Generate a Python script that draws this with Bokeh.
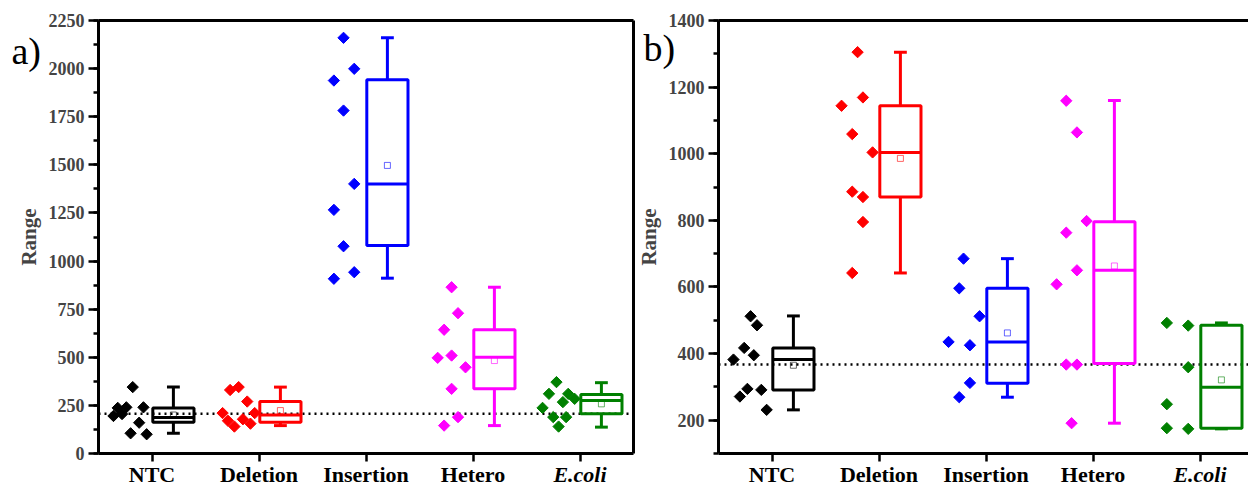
import numpy as np
from bokeh.plotting import figure
from bokeh.models import Range1d, SingleIntervalTicker, FixedTicker, Label, LinearAxis
from bokeh.layouts import row
from bokeh.embed import file_html
from bokeh.resources import INLINE

categories = ["NTC", "Deletion", "Insertion", "Hetero", "E.coli"]
colors = ["#000000", "#FF0000", "#0000FF", "#FF00FF", "#008000"]

# ---------- panel a data ----------
a_ntc = [345, 237, 240, 195, 205, 240, 160, 105, 100]
a_ntc_dx = [-0.18, -0.32, -0.24, -0.36, -0.28, -0.08, -0.12, -0.20, -0.05]
a_del = [330, 345, 270, 210, 170, 140, 178, 155, 210]
a_del_dx = [-0.27, -0.19, -0.11, -0.34, -0.29, -0.23, -0.15, -0.08, -0.04]
a_ins = [2160, 1999, 1938, 1782, 1401, 1266, 1077, 942, 908]
a_ins_dx = [-0.21, -0.11, -0.30, -0.21, -0.11, -0.30, -0.21, -0.11, -0.30]
a_het = [864, 729, 643, 497, 509, 448, 336, 189, 145]
a_het_dx = [-0.20, -0.14, -0.27, -0.33, -0.20, -0.07, -0.20, -0.14, -0.27]
a_eco = [371, 310, 310, 284, 267, 237, 189, 189, 140]
a_eco_dx = [-0.22, -0.29, -0.11, -0.05, -0.16, -0.35, -0.25, -0.13, -0.20]

# box stats: whisker low, q1, median, q3, whisker high, mean
a_low = [105, 145, 911, 145, 137]
a_q1 = [163, 163, 1081, 336, 206]
a_med = [187, 200, 1401, 500, 275]
a_q3 = [237, 270, 1942, 643, 307]
a_high = [345, 345, 2160, 864, 368]
a_mean = [200, 223, 1497, 483, 258]
a_ref = 206
a_yticks = (0, 2250, 250)

# ---------- panel b data ----------
b_ntc = [512, 485, 417, 395, 382, 294, 291, 271, 231]
b_ntc_dx = [-0.20, -0.14, -0.26, -0.17, -0.36, -0.23, -0.10, -0.30, -0.05]
b_del = [1305, 1169, 1144, 1059, 1004, 886, 870, 795, 642]
b_del_dx = [-0.20, -0.15, -0.35, -0.25, -0.06, -0.25, -0.15, -0.15, -0.25]
b_ins = [685, 596, 512, 435, 425, 312, 269]
b_ins_dx = [-0.21, -0.25, -0.06, -0.35, -0.15, -0.15, -0.25]
b_het = [1159, 1064, 798, 763, 650, 608, 367, 367, 191]
b_het_dx = [-0.25, -0.15, -0.06, -0.25, -0.15, -0.34, -0.25, -0.15, -0.20]
b_eco = [492, 484, 359, 248, 176, 174]
b_eco_dx = [-0.31, -0.11, -0.11, -0.31, -0.31, -0.11]

b_low = [231, 642, 269, 191, 174]
b_q1 = [291, 870, 311, 370, 176]
b_med = [382, 1004, 435, 650, 299]
b_q3 = [417, 1144, 596, 796, 485]
b_high = [513, 1305, 685, 1160, 492]
b_mean = [365, 986, 462, 663, 321]
b_ref = 367
b_yticks = (100, 1400, 200)

FONT = "Liberation Serif"
BOX_OFF = 0.2
BOX_W = 0.385
CAP_W = 0.12
H = 487
TOP_PX, BOT_PX = 20, 453


def make_panel(points, dxs, low, q1, med, q3, high, mean, ref, yticks,
               width, left_px, xscale, tag, tag_px, full_box):
    y_lo, y_hi, interval = yticks
    yscale = (BOT_PX - TOP_PX) / (y_hi - y_lo)

    def xv(px):
        return 0.5 + (px - left_px) / xscale

    def yv(px):
        return y_hi - (px - TOP_PX) / yscale

    x_right = 5.5 if full_box else xv(width)
    p = figure(width=width, height=H, output_backend="svg", toolbar_location=None,
               x_range=Range1d(xv(0), xv(width)), y_range=Range1d(yv(H), yv(0)),
               x_axis_location=None, y_axis_location=None, min_border=0)
    p.xgrid.grid_line_color = None
    p.ygrid.grid_line_color = None
    p.outline_line_color = None
    p.background_fill_color = "white"
    p.border_fill_color = "white"

    ya = LinearAxis(fixed_location=0.5, bounds=(y_lo, y_hi),
                    ticker=SingleIntervalTicker(interval=interval, num_minor_ticks=2),
                    axis_label="Range", axis_label_text_font=FONT,
                    axis_label_text_font_style="bold", axis_label_text_font_size="21px",
                    axis_label_standoff=5,
                    major_label_text_font=FONT, major_label_text_font_style="bold",
                    major_label_text_font_size="18px", major_label_standoff=4,
                    major_tick_out=10, major_tick_in=0, minor_tick_out=5, minor_tick_in=0,
                    axis_line_width=3, major_tick_line_width=2.5, minor_tick_line_width=2.5)
    p.add_layout(ya, "left")

    xa = LinearAxis(fixed_location=y_lo, bounds=(0.5, x_right),
                    ticker=FixedTicker(ticks=[1, 2, 3, 4, 5]),
                    major_label_overrides={1: "", 2: "", 3: "", 4: "", 5: ""},
                    major_tick_out=8, major_tick_in=0, minor_tick_out=0, minor_tick_in=0,
                    axis_line_width=3, major_tick_line_width=2.5)
    p.add_layout(xa, "below")

    ta = LinearAxis(fixed_location=y_hi, bounds=(0.5, x_right), ticker=FixedTicker(ticks=[]),
                    major_tick_out=0, major_tick_in=0, minor_tick_out=0, minor_tick_in=0,
                    axis_line_width=3)
    p.add_layout(ta, "above")
    if full_box:
        ra = LinearAxis(fixed_location=5.5, bounds=(y_lo, y_hi), ticker=FixedTicker(ticks=[]),
                        major_tick_out=0, major_tick_in=0, minor_tick_out=0, minor_tick_in=0,
                        axis_line_width=3)
        p.add_layout(ra, "right")

    # reference dotted line across the plot area
    p.segment(x0=[0.5], x1=[x_right], y0=[ref], y1=[ref], line_color="black",
              line_width=2.5, line_dash="2 4")

    for i, (vals, dx) in enumerate(zip(points, dxs)):
        c = colors[i]
        cx = i + 1
        p.scatter([cx + d for d in dx], vals, marker="square", size=8,
                  angle=np.pi / 4, fill_color=c, line_color=c)
        bx = cx + BOX_OFF
        p.quad(left=[bx - BOX_W / 2], right=[bx + BOX_W / 2], bottom=[q1[i]], top=[q3[i]],
               fill_color=None, line_color=c, line_width=3)
        p.segment(x0=[bx - BOX_W / 2, bx, bx, bx - CAP_W / 2, bx - CAP_W / 2],
                  x1=[bx + BOX_W / 2, bx, bx, bx + CAP_W / 2, bx + CAP_W / 2],
                  y0=[med[i], q3[i], q1[i], high[i], low[i]],
                  y1=[med[i], high[i], low[i], high[i], low[i]],
                  line_color=c, line_width=3)
        p.scatter([bx], [mean[i]], marker="square", size=6, fill_color=None,
                  line_color=c, line_width=1, line_alpha=0.6)

    for i, name in enumerate(categories):
        p.add_layout(Label(x=i + 1, y=yv(474), text=name, text_align="center",
                           text_baseline="middle", text_font=FONT,
                           text_font_size="22px",
                           text_font_style="bold italic" if name == "E.coli" else "bold",
                           text_color="black"))
    p.add_layout(Label(x=xv(tag_px[0]), y=yv(tag_px[1]), text=tag, text_font=FONT,
                       text_font_size="38px", text_baseline="middle",
                       text_color="black"))
    return p


pa = make_panel([a_ntc, a_del, a_ins, a_het, a_eco],
                [a_ntc_dx, a_del_dx, a_ins_dx, a_het_dx, a_eco_dx],
                a_low, a_q1, a_med, a_q3, a_high, a_mean, a_ref, a_yticks,
                636, 98, 107.0, "a)", (11, 50), True)

pb = make_panel([b_ntc, b_del, b_ins, b_het, b_eco],
                [b_ntc_dx, b_del_dx, b_ins_dx, b_het_dx, b_eco_dx],
                b_low, b_q1, b_med, b_q3, b_high, b_mean, b_ref, b_yticks,
                612, 82, 107.0, "b)", (7, 47), False)

layout = row(pa, pb)
open("out.html", "w").write(file_html(layout, INLINE))
